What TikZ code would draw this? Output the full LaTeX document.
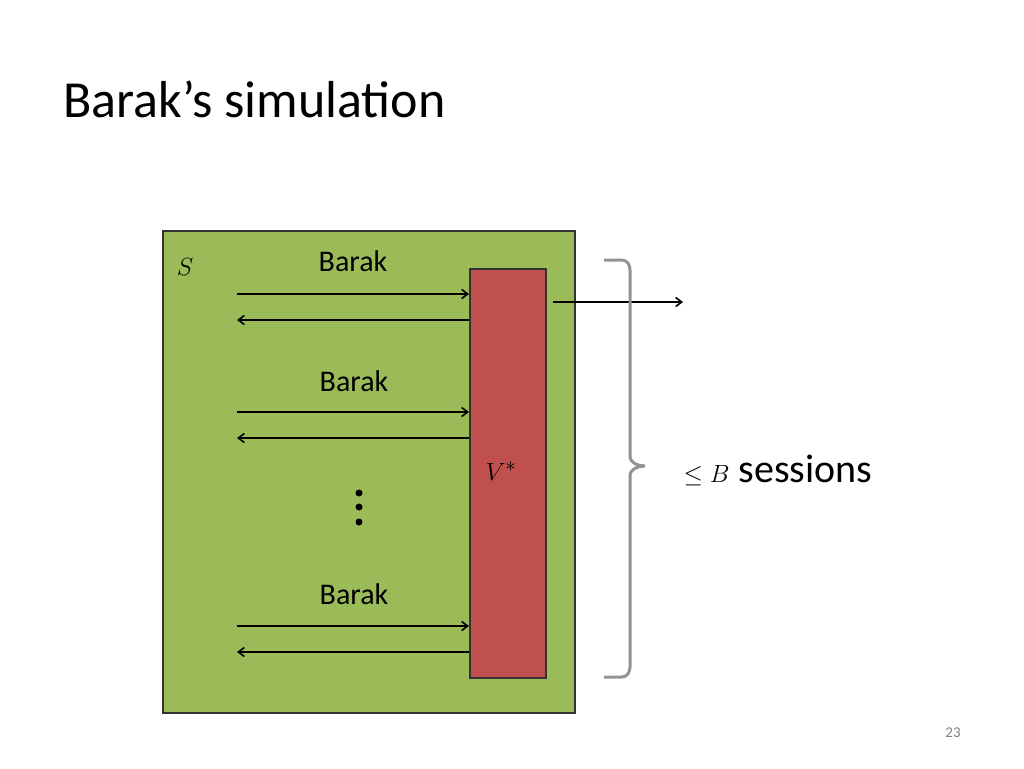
\documentclass[tikz,border=0pt]{standalone}
\usepackage{fontspec}
\setmainfont{Carlito}
\usetikzlibrary{arrows.meta}
\begin{document}
\begin{tikzpicture}[x=1pt,y=-1pt,
  arr/.style={-{Straight Barb[length=6pt,width=9pt]},line width=1.6pt},
  lbl/.style={font=\fontsize{30}{30}\selectfont}]
\useasboundingbox (0,0) rectangle (1024,768);
\node[anchor=base west,font=\fontsize{52}{52}\selectfont] (title) at (60,117) {Barak’s simulation};
\node[draw=black!80,line width=1.5pt,fill={rgb,255:red,155;green,187;blue,89},minimum width=412pt,minimum height=482pt,anchor=north west] (S) at (162,230) {};
\node[draw=black!80,line width=1.5pt,fill={rgb,255:red,192;green,80;blue,77},minimum width=76pt,minimum height=409pt,anchor=north west] (V) at (469,268) {};
\node[font=\fontsize{36}{36}\selectfont] (Slbl) at (185,267) {$S$};
\node[font=\fontsize{32}{32}\selectfont] (Vlbl) at (501,471) {$V^*$};
\node[lbl] (b1) at (353,261) {Barak};
\node[lbl] (b2) at (354,381) {Barak};
\node[lbl] (b3) at (354,594) {Barak};
\foreach \n/\y in {1/294,2/412,3/626}{
  \coordinate (l\n) at (237,\y); \coordinate (r\n) at (V.west |- l\n);
  \draw[arr] (l\n) -- (r\n);
  \coordinate (ll\n) at (237,\y+26); \coordinate (rr\n) at (V.west |- ll\n);
  \draw[arr] (rr\n) -- (ll\n);
}
\foreach \y in {493,507,522} \fill (359,\y) circle (3.5pt);
\coordinate (o1) at (553,302); \coordinate (o2) at (683,302);
\draw[arr] (o1) -- (o2);
\draw[gray!85,line width=3pt] (604,260) -- (622,260) to[out=0,in=90] (630,270) -- (630,456) to[out=-90,in=180] (645,466)
  (645,466) to[out=180,in=90] (630,476) -- (630,667) to[out=-90,in=0] (622,677) -- (604,677);
\node[anchor=west,font=\fontsize{40}{40}\selectfont] (sess) at (680,470) {$\leq B$ sessions};
\node[text=gray,font=\fontsize{15}{15}\selectfont] (pg) at (953,733) {23};
\end{tikzpicture}
\end{document}
